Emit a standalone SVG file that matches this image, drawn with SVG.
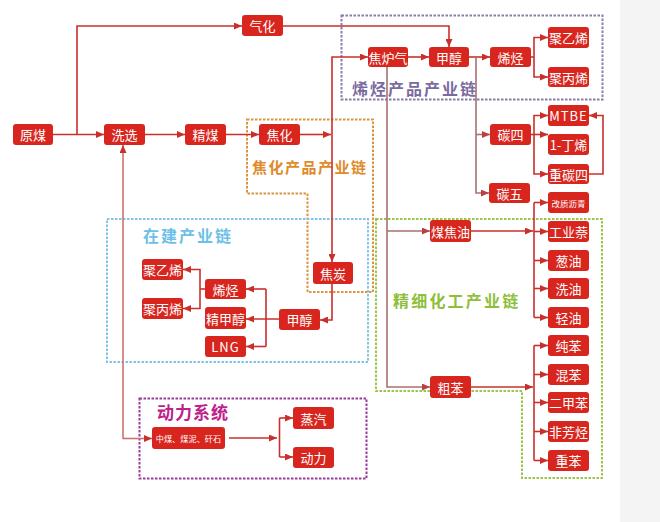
<svg xmlns="http://www.w3.org/2000/svg" width="660" height="522" viewBox="0 0 660 522">
<style>
.n rect{fill:#d8261e}
.n text{fill:#fff;font-family:"Noto Sans CJK SC","Liberation Sans",sans-serif;font-size:13px;text-anchor:middle;dominant-baseline:central}
.n text.s{font-size:8.5px}
.n text.xs{font-size:8.2px}
.c path{fill:none;stroke:#c9302c;stroke-width:1.6}
.c path.m{stroke:#a8716f}
.c path.p{stroke:#d07272}
.g{fill:none;stroke-width:2;stroke-dasharray:2.5 1.5}
.lb{font-family:"Noto Sans CJK SC","Liberation Sans",sans-serif;font-weight:bold}
</style>
<defs>
<marker id="a" markerUnits="userSpaceOnUse" markerWidth="8" markerHeight="7" refX="8" refY="3.5" orient="auto"><path d="M0,0 L8,3.5 L0,7 z" fill="#c9302c"/></marker>
<marker id="am" markerUnits="userSpaceOnUse" markerWidth="8" markerHeight="7" refX="8" refY="3.5" orient="auto"><path d="M0,0 L8,3.5 L0,7 z" fill="#b84040"/></marker>
</defs>
<rect width="660" height="522" fill="#fff"/>
<rect x="620" y="0" width="40" height="522" fill="#f4f4f4"/>

<g id="groups">
<rect class="g" x="341.5" y="15.5" width="261" height="84" stroke="#8a7aa8"/>
<path class="g" d="M247,119.5 H373 V292 H307.5 V193.5 H247 Z" stroke="#d9963e"/>
<rect class="g" x="107" y="219" width="261" height="143" stroke="#80c4e6"/>
<path class="g" d="M376,219 H602 V478 H522 V391 H376 Z" stroke="#9cc44a"/>
<rect class="g" x="139.5" y="398.5" width="227" height="80" stroke="#9a3c9a"/>
<text class="lb" x="352" y="95" font-size="16" letter-spacing="2" fill="#7a6a9e">烯烃产品产业链</text>
<text class="lb" x="252" y="173" font-size="15" letter-spacing="1.5" fill="#e08a2a">焦化产品产业链</text>
<text class="lb" x="143" y="242" font-size="16" letter-spacing="2" fill="#6cbfe6">在建产业链</text>
<text class="lb" x="393" y="307" font-size="16" letter-spacing="2.2" fill="#8fbf3a">精细化工产业链</text>
<text class="lb" x="157" y="419" font-size="17" letter-spacing="1" fill="#c0208a">动力系统</text>
</g>

<g class="c" id="connectors">
<path d="M53,134.5 H104" marker-end="url(#a)"/>
<path d="M77,134.5 V26 H242" marker-end="url(#a)"/>
<path d="M145,134.5 H185" marker-end="url(#a)"/>
<path d="M226,134.5 H259" marker-end="url(#a)"/>
<path d="M300,134.5 H331" marker-end="url(#a)"/>
<path d="M332,134 V262" marker-end="url(#a)"/>
<path d="M332,134 V57 H368" marker-end="url(#a)"/>
<path d="M283,26 H449 V47" marker-end="url(#a)"/>
<path d="M408,57 H429" marker-end="url(#a)"/>
<path d="M469,57 H490" marker-end="url(#a)"/>
<path d="M531,57 H534"/>
<path d="M534,57 V37.5 H548" marker-end="url(#a)"/>
<path d="M534,57 V77 H548" marker-end="url(#a)"/>
<path class="m" d="M476,57 V193 H489" marker-end="url(#am)"/>
<path class="m" d="M476,134.5 H490" marker-end="url(#am)"/>
<path d="M531,134.5 H534"/>
<path d="M534,134.5 V115.5 H548" marker-end="url(#a)"/>
<path d="M534,134.5 H548" marker-end="url(#a)"/>
<path d="M534,134.5 V174 H548" marker-end="url(#a)"/>
<path d="M589,174 H603 V115.5 H589" marker-end="url(#a)"/>
<path class="m" d="M387,67 V387 H430" marker-end="url(#am)"/>
<path class="m" d="M387,231 H430" marker-end="url(#am)"/>
<path d="M471,231 H533" marker-end="url(#a)"/>
<path d="M534,202.5 V317.5"/>
<path d="M534,202.5 H548" marker-end="url(#a)"/>
<path d="M534,231.5 H548" marker-end="url(#a)"/>
<path d="M534,260.5 H548" marker-end="url(#a)"/>
<path d="M534,288.5 H548" marker-end="url(#a)"/>
<path d="M534,317.5 H548" marker-end="url(#a)"/>
<path d="M471,387 H533" marker-end="url(#a)"/>
<path d="M534,345.5 V460.5"/>
<path d="M534,345.5 H548" marker-end="url(#a)"/>
<path d="M534,374.5 H548" marker-end="url(#a)"/>
<path d="M534,402.5 H548" marker-end="url(#a)"/>
<path d="M534,431.5 H548" marker-end="url(#a)"/>
<path d="M534,460.5 H548" marker-end="url(#a)"/>
<path d="M332,284 V320 H320" marker-end="url(#a)"/>
<path d="M279,319 H246" marker-end="url(#a)"/>
<path d="M266,289 V346.5"/>
<path d="M266,289 H246" marker-end="url(#a)"/>
<path d="M266,346.5 H246" marker-end="url(#a)"/>
<path d="M205,289 H200"/>
<path d="M200,289 V269.5 H183" marker-end="url(#a)"/>
<path d="M200,289 V308.5 H183" marker-end="url(#a)"/>
<path class="p" d="M123,439 V145" marker-end="url(#a)"/>
<path class="p" d="M123,438.5 H152" marker-end="url(#a)"/>
<path d="M229,438 H277" marker-end="url(#a)"/>
<path d="M279.5,418 V457"/>
<path d="M279.5,418 H293" marker-end="url(#a)"/>
<path d="M279.5,457 H293" marker-end="url(#a)"/>
</g>

<g class="n" id="yuanmei"><rect x="13" y="124" width="40" height="21" rx="3"/><text x="33" y="134.5">原煤</text></g>
<g class="n" id="xixuan"><rect x="104" y="124" width="41" height="21" rx="3"/><text x="124.5" y="134.5">洗选</text></g>
<g class="n" id="jingmei"><rect x="185" y="124" width="41" height="21" rx="3"/><text x="205.5" y="134.5">精煤</text></g>
<g class="n" id="jiaohua"><rect x="259" y="124" width="41" height="21" rx="3"/><text x="279.5" y="134.5">焦化</text></g>
<g class="n" id="qihua"><rect x="242" y="15" width="41" height="21" rx="3"/><text x="262.5" y="25.5">气化</text></g>
<g class="n" id="jiaoluqi"><rect x="368" y="47" width="40" height="20" rx="3"/><text x="388" y="57">焦炉气</text></g>
<g class="n" id="jiachun"><rect x="429" y="47" width="40" height="20" rx="3"/><text x="449" y="57">甲醇</text></g>
<g class="n" id="xiting"><rect x="490" y="47" width="41" height="20" rx="3"/><text x="510.5" y="57">烯烃</text></g>
<g class="n" id="juyixi"><rect x="548" y="27" width="41" height="21" rx="3"/><text x="568.5" y="37.5">聚乙烯</text></g>
<g class="n" id="jubingxi"><rect x="548" y="67" width="41" height="20" rx="3"/><text x="568.5" y="77">聚丙烯</text></g>
<g class="n" id="tansi"><rect x="490" y="124" width="41" height="21" rx="3"/><text x="510.5" y="134.5">碳四</text></g>
<g class="n" id="tanwu"><rect x="489" y="183" width="41" height="20" rx="3"/><text x="509.5" y="193">碳五</text></g>
<g class="n" id="mtbe"><rect x="548" y="105" width="41" height="21" rx="3"/><text x="568.5" y="115.5" letter-spacing="1">MTBE</text></g>
<g class="n" id="dingxi"><rect x="548" y="134" width="41" height="21" rx="3"/><text x="568.5" y="144.5">1-丁烯</text></g>
<g class="n" id="zhongtansi"><rect x="548" y="164" width="41" height="20" rx="3"/><text x="568.5" y="174">重碳四</text></g>
<g class="n" id="gaizhi"><rect x="548" y="192" width="41" height="21" rx="3"/><text class="s" x="568.5" y="202.5">改质沥青</text></g>
<g class="n" id="meijiaoyou"><rect x="430" y="220" width="41" height="22" rx="3"/><text x="450.5" y="231">煤焦油</text></g>
<g class="n" id="gongyenai"><rect x="548" y="221" width="41" height="21" rx="3"/><text x="568.5" y="231.5">工业萘</text></g>
<g class="n" id="congyou"><rect x="548" y="250" width="41" height="21" rx="3"/><text x="568.5" y="260.5">葱油</text></g>
<g class="n" id="xiyou"><rect x="548" y="278" width="41" height="21" rx="3"/><text x="568.5" y="288.5">洗油</text></g>
<g class="n" id="qingyou"><rect x="548" y="307" width="41" height="21" rx="3"/><text x="568.5" y="317.5">轻油</text></g>
<g class="n" id="chunben"><rect x="548" y="335" width="41" height="21" rx="3"/><text x="568.5" y="345.5">纯苯</text></g>
<g class="n" id="hunben"><rect x="548" y="364" width="41" height="21" rx="3"/><text x="568.5" y="374.5">混苯</text></g>
<g class="n" id="erjiaben"><rect x="548" y="392" width="41" height="21" rx="3"/><text x="568.5" y="402.5">二甲苯</text></g>
<g class="n" id="feifangting"><rect x="548" y="421" width="41" height="21" rx="3"/><text x="568.5" y="431.5">非芳烃</text></g>
<g class="n" id="zhongben"><rect x="548" y="450" width="41" height="21" rx="3"/><text x="568.5" y="460.5">重苯</text></g>
<g class="n" id="cuben"><rect x="430" y="376" width="41" height="22" rx="3"/><text x="450.5" y="387">粗苯</text></g>
<g class="n" id="jiaotan"><rect x="313" y="262" width="40" height="22" rx="3"/><text x="333" y="273">焦炭</text></g>
<g class="n" id="jiachun2"><rect x="279" y="309" width="41" height="21" rx="3"/><text x="299.5" y="319.5">甲醇</text></g>
<g class="n" id="xiting2"><rect x="205" y="279" width="41" height="20" rx="3"/><text x="225.5" y="289">烯烃</text></g>
<g class="n" id="jingjiachun"><rect x="205" y="307" width="41" height="22" rx="3"/><text x="225.5" y="318">精甲醇</text></g>
<g class="n" id="lng"><rect x="205" y="336" width="41" height="21" rx="3"/><text x="225.5" y="346.5" letter-spacing="1">LNG</text></g>
<g class="n" id="juyixi2"><rect x="142" y="259" width="41" height="21" rx="3"/><text x="162.5" y="269.5">聚乙烯</text></g>
<g class="n" id="jubingxi2"><rect x="142" y="298" width="41" height="21" rx="3"/><text x="162.5" y="308.5">聚丙烯</text></g>
<g class="n" id="zhongmei"><rect x="152" y="427" width="73" height="22" rx="3"/><text class="xs" x="188.5" y="438">中煤、煤泥、矸石</text></g>
<g class="n" id="zhengqi"><rect x="293" y="407" width="41" height="22" rx="3"/><text x="313.5" y="418">蒸汽</text></g>
<g class="n" id="dongli"><rect x="293" y="447" width="41" height="21" rx="3"/><text x="313.5" y="457.5">动力</text></g>
</svg>
